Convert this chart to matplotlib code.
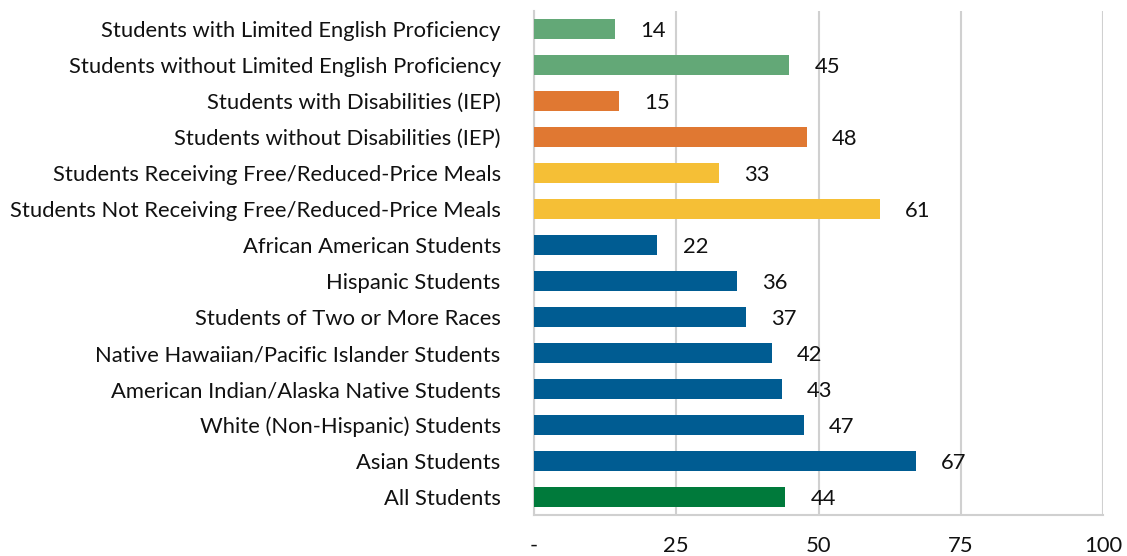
import matplotlib.pyplot as plt

categories = [
    'Students with Limited English Proficiency',
    'Students without Limited English Proficiency',
    'Students with Disabilities (IEP)',
    'Students without Disabilities (IEP)',
    'Students Receiving Free/Reduced-Price Meals',
    'Students Not Receiving Free/Reduced-Price Meals',
    'African American Students',
    'Hispanic Students',
    'Students of Two or More Races',
    'Native Hawaiian/Pacific Islander Students',
    'American Indian/Alaska Native Students',
    'White (Non-Hispanic) Students',
    'Asian Students',
    'All Students',
]
values = [14.2, 44.9, 14.9, 47.9, 32.6, 60.8, 21.7, 35.7, 37.3, 41.8, 43.5, 47.4, 67.1, 44.2]
labels = ['14', '45', '15', '48', '33', '61', '22', '36', '37', '42', '43', '47', '67', '44']
groups = ['lep', 'lep', 'iep', 'iep', 'frpm', 'frpm',
          'race', 'race', 'race', 'race', 'race', 'race', 'race', 'all']
x_ticks = [0, 25, 50, 75, 100]
x_ticklabels = ['-', '25', '50', '75', '100']

palette = {
    'lep': '#63A877',
    'iep': '#E07832',
    'frpm': '#F5BF36',
    'race': '#005C92',
    'all': '#007A3B',
}

plt.rcParams['font.family'] = ['Lato', 'DejaVu Sans']

fig = plt.figure(figsize=(11.27, 5.56), dpi=100)
ax = fig.add_axes([534 / 1127, 1 - 515 / 556, (1103 - 534) / 1127, (515 - 11) / 556])

ypos = list(range(len(categories)))
colors = [palette[g] for g in groups]
ax.barh(ypos, values, height=0.56, color=colors, zorder=3)

for y, v, lab in zip(ypos, values, labels):
    ax.text(v + 4.4, y + 0.06, lab, va='center', ha='left', fontsize=15.8, color='#111111')

ax.set_ylim(len(categories) - 0.5, -0.5)
ax.set_xlim(0, 100)
ax.set_yticks(ypos)
ax.set_yticklabels(categories, fontsize=15.8, color='#111111')
ax.set_xticks(x_ticks)
ax.set_xticklabels(x_ticklabels, fontsize=15.8, color='#111111')
ax.tick_params(axis='both', length=0)
ax.tick_params(axis='x', pad=15)
ax.tick_params(axis='y', pad=24)

ax.grid(axis='x', color='#d0d0d0', linewidth=1.5, zorder=0)
for side in ['top', 'right']:
    ax.spines[side].set_visible(False)
for side in ['left', 'bottom']:
    ax.spines[side].set_color('#d0d0d0')
    ax.spines[side].set_linewidth(1.5)

fig.savefig('out.png', dpi=100)
